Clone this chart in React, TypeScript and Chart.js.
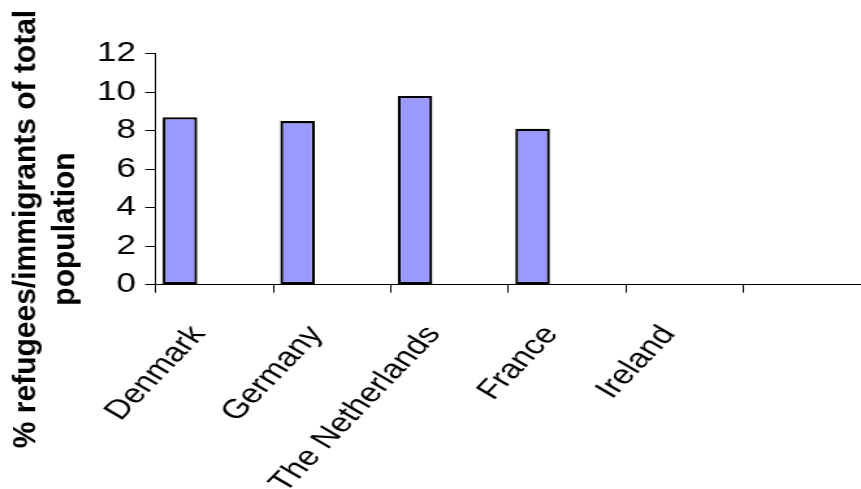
import { useEffect, useRef } from "react";
import { Chart, registerables } from "chart.js";

Chart.register(...registerables);

// Share of refugees/immigrants in the total population, by country
const countries: string[] = ["Denmark", "Germany", "The Netherlands", "France", "Ireland", ""];
const series1: (number | null)[] = [8.7, 8.5, 9.8, 8.1, null, null];
const series2: (number | null)[] = [null, null, null, null, null, null];
const series3: (number | null)[] = [null, null, null, null, null, null];
const yTickValues: number[] = [0, 2, 4, 6, 8, 10, 12];
const yTitleLines: string[] = ["% refugees/immigrants of total", "population"];

// The canvas is drawn narrower and widened by CSS, giving the broad lettering.
const STRETCH = 1.3;
const VIEW_W = 861;
const VIEW_H = 489;
const CANVAS_W = Math.round(VIEW_W / STRETCH);
const FONT = '"Liberation Sans", Arial, Helvetica, sans-serif';

const PLOT_TOP = 53.7;
const PLOT_BOTTOM = 284.7;
const AXIS_X = 155.7 / STRETCH;
const SLOT_W = 118.86 / STRETCH;

// Two-line vertical axis title, drawn without the horizontal widening
const yTitlePlugin = {
  id: "yAxisTitle",
  afterDraw(chart: Chart) {
    const ctx = chart.ctx;
    ctx.save();
    ctx.scale(1 / STRETCH, 1);
    ctx.fillStyle = "#000";
    ctx.font = `bold 30px ${FONT}`;
    ctx.textAlign = "center";
    ctx.textBaseline = "alphabetic";
    const centerY = 229;
    const baselines = [35, 74];
    yTitleLines.forEach((line, i) => {
      ctx.save();
      ctx.translate(baselines[i], centerY);
      ctx.rotate(-Math.PI / 2);
      ctx.fillText(line, 0, 0);
      ctx.restore();
    });
    ctx.restore();
  },
};

export default function App() {
  const canvasRef = useRef<HTMLCanvasElement | null>(null);

  useEffect(() => {
    const canvas = canvasRef.current;
    if (!canvas) return;
    const barStyle = {
      backgroundColor: "#9999FF",
      borderColor: "#000000",
      borderWidth: 2.3,
      borderSkipped: false as const,
      categoryPercentage: 0.8825,
      barPercentage: 1,
    };
    const chart = new Chart(canvas, {
      type: "bar",
      data: {
        labels: countries,
        datasets: [
          { label: "Series 1", data: series1, ...barStyle },
          { label: "Series 2", data: series2, ...barStyle },
          { label: "Series 3", data: series3, ...barStyle },
        ],
      },
      options: {
        animation: false,
        responsive: false,
        devicePixelRatio: 1,
        layout: {
          padding: {
            top: PLOT_TOP,
            left: 0,
            bottom: 0,
            right: CANVAS_W - (AXIS_X + SLOT_W * countries.length),
          },
        },
        plugins: {
          legend: { display: false },
          tooltip: { enabled: false },
        },
        scales: {
          x: {
            type: "category",
            grid: {
              display: true,
              offset: true,
              drawOnChartArea: false,
              drawTicks: true,
              tickLength: 8,
              color: "#000",
              lineWidth: 1,
            },
            border: { display: true, color: "#000", width: 1 },
            ticks: {
              color: "#000",
              font: { family: FONT, size: 27 },
              minRotation: 53,
              maxRotation: 53,
              autoSkip: false,
              padding: 27,
              labelOffset: -12.3,
            },
            afterFit: (scale: any) => {
              scale.height = VIEW_H - PLOT_BOTTOM;
              scale.paddingLeft = 0;
              scale.paddingRight = 0;
            },
          },
          y: {
            min: 0,
            max: 12,
            grid: {
              display: true,
              drawOnChartArea: false,
              drawTicks: true,
              tickLength: 8.2,
              color: "#000",
              lineWidth: 1,
            },
            border: { display: true, color: "#000", width: 1 },
            ticks: {
              color: "#000",
              font: { family: FONT, size: 27 },
              padding: 7,
              stepSize: 2,
            },
            afterBuildTicks: (scale: any) => {
              scale.ticks = yTickValues.map((v) => ({ value: v }));
            },
            afterFit: (scale: any) => {
              scale.width = AXIS_X;
            },
          },
        },
      },
      plugins: [yTitlePlugin],
    });
    return () => chart.destroy();
  }, []);

  return (
    <div style={{ position: "fixed", left: 0, top: 0, width: VIEW_W, height: VIEW_H, background: "#fff" }}>
      <canvas
        ref={canvasRef}
        width={CANVAS_W}
        height={VIEW_H}
        style={{ width: `${VIEW_W}px`, height: `${VIEW_H}px`, display: "block" }}
      />
    </div>
  );
}
